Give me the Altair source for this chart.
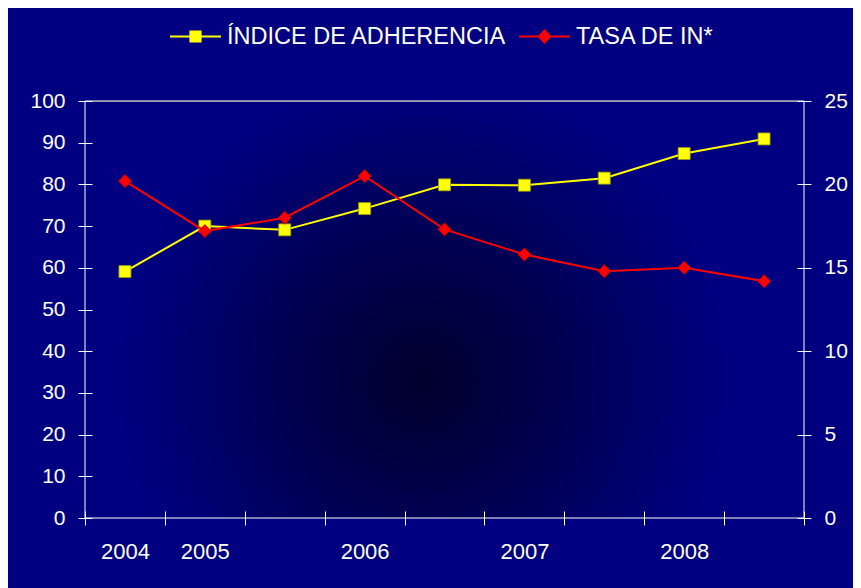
import altair as alt
import pandas as pd

# ---- data ----
periods = ["2004-2", "2005-1", "2005-2", "2006-1", "2006-2",
           "2007-1", "2007-2", "2008-1", "2008-2"]
tick_labels = ["2004", "2005", "", "2006", "", "2007", "", "2008", ""]
adherencia = [59.1, 70.0, 69.1, 74.2, 79.9, 79.8, 81.5, 87.4, 90.9]
tasa = [20.2, 17.2, 18.0, 20.5, 17.3, 15.8, 14.8, 15.0, 14.2]
series_names = ["ÍNDICE DE ADHERENCIA", "TASA DE IN*"]
series_colors = ["#ffff00", "#ff0000"]
left_ticks = [0, 10, 20, 30, 40, 50, 60, 70, 80, 90, 100]
right_ticks = [0, 5, 10, 15, 20, 25]

W, H = 719, 417
FONT = "Liberation Sans"

df = pd.DataFrame({"periodo": periods, "adherencia": adherencia, "tasa": tasa})
legend_df = pd.DataFrame({"serie": series_names})
bg_df = pd.DataFrame({"k": [0]})

label_map = "({" + ",".join(f"'{p}':'{l}'" for p, l in zip(periods, tick_labels)) + "})"
label_expr = f"{label_map}[datum.value]"

x_scale = alt.Scale(type="band", domain=periods, paddingInner=0, paddingOuter=0)

x_bottom = alt.X(
    "periodo:O", scale=x_scale, sort=periods,
    axis=alt.Axis(orient="bottom", title=None, tickBand="extent", tickSize=14,
                  offset=-7, domain=False, grid=False, labelExpr=label_expr,
                  labelFontSize=22, labelPadding=16, labelAngle=0,
                  tickColor="white", labelColor="white", labelFont=FONT,
                  zindex=1),
)
x_top = alt.X(
    "periodo:O", scale=x_scale, sort=periods,
    axis=alt.Axis(orient="top", title=None, ticks=False, labels=False,
                  domain=True, domainColor="#a0a0a0", grid=False, zindex=1),
)

y_left = alt.Y(
    "adherencia:Q", scale=alt.Scale(domain=[0, 100], nice=False),
    axis=alt.Axis(orient="left", values=left_ticks, title=None, tickSize=14,
                  offset=-7, domain=False, grid=False, labelFontSize=21,
                  labelPadding=13, tickColor="white", labelColor="white",
                  labelFont=FONT, zindex=1),
)
y_right = alt.Y(
    "tasa:Q", scale=alt.Scale(domain=[0, 25], nice=False),
    axis=alt.Axis(orient="right", values=right_ticks, title=None, tickSize=14,
                  offset=-7, domain=False, grid=False, labelFontSize=21,
                  labelPadding=13, tickColor="white", labelColor="white",
                  labelFont=FONT, zindex=1),
)

gradient = {
    "gradient": "radial",
    "x1": 0.47, "y1": 0.6, "r1": 0,
    "x2": 0.47, "y2": 0.6, "r2": 0.42,
    "stops": [
        {"offset": 0, "color": "#00002c"},
        {"offset": 0.45, "color": "#000050"},
        {"offset": 1, "color": "#000080"},
    ],
}

bg = alt.Chart(bg_df).mark_rect(fill=gradient, stroke="white", strokeWidth=1).encode(
    x=alt.value(0), x2=alt.value("width"), y=alt.value(0), y2=alt.value("height")
)

base = alt.Chart(df)

line_y = base.mark_line(color="#ffff00", strokeWidth=2).encode(x=x_bottom, y=y_left)
pts_y = base.mark_point(shape="square", size=144, filled=True, fill="#ffff00",
                        stroke="#9a9a00", strokeWidth=0.8, opacity=1).encode(
    x=x_bottom, y=y_left)

sq_path = "M-1,0L1,0M-0.2,-0.2L0.2,-0.2L0.2,0.2L-0.2,0.2Z"
dm_path = "M-1,0L1,0M0,-0.24L0.22,0L0,0.24L-0.22,0Z"

leg = alt.Legend(title=None, orient="none", legendX=84, legendY=-91,
                 direction="horizontal", symbolSize=2601, symbolStrokeWidth=2,
                 labelFontSize=23.5, labelColor="white", labelFont=FONT,
                 labelOffset=5, columnPadding=8, padding=0, labelLimit=600,
                 symbolOpacity=1)

carrier = alt.Chart(legend_df).transform_filter("false").mark_point(filled=True).encode(
    color=alt.Color("serie:N", scale=alt.Scale(domain=series_names, range=series_colors), legend=leg),
    stroke=alt.Stroke("serie:N", scale=alt.Scale(domain=series_names, range=series_colors), legend=leg),
    shape=alt.Shape("serie:N", scale=alt.Scale(domain=series_names, range=[sq_path, dm_path]), legend=leg),
)

line_r = base.mark_line(color="#ff0000", strokeWidth=2).encode(x=x_top, y=y_right)
pts_r = base.mark_point(shape="diamond", size=169, filled=True, fill="#ff0000",
                        stroke="#c00000", strokeWidth=0.8, opacity=1).encode(
    x=x_top, y=y_right)

left = alt.layer(line_y, pts_y, carrier)
right = alt.layer(line_r, pts_r)

chart = (
    alt.layer(bg, left, right)
    .resolve_scale(y="independent")
    .resolve_axis(x="independent")
    .properties(
        width=W, height=H, background="#000080",
        padding={"left": 77, "top": 93, "right": 49, "bottom": 70},
        autosize=alt.AutoSizeParams(type="none"),
    )
    .configure_view(stroke=None)
)

chart.save("out.html", embed_options={"renderer": "svg", "actions": False})
